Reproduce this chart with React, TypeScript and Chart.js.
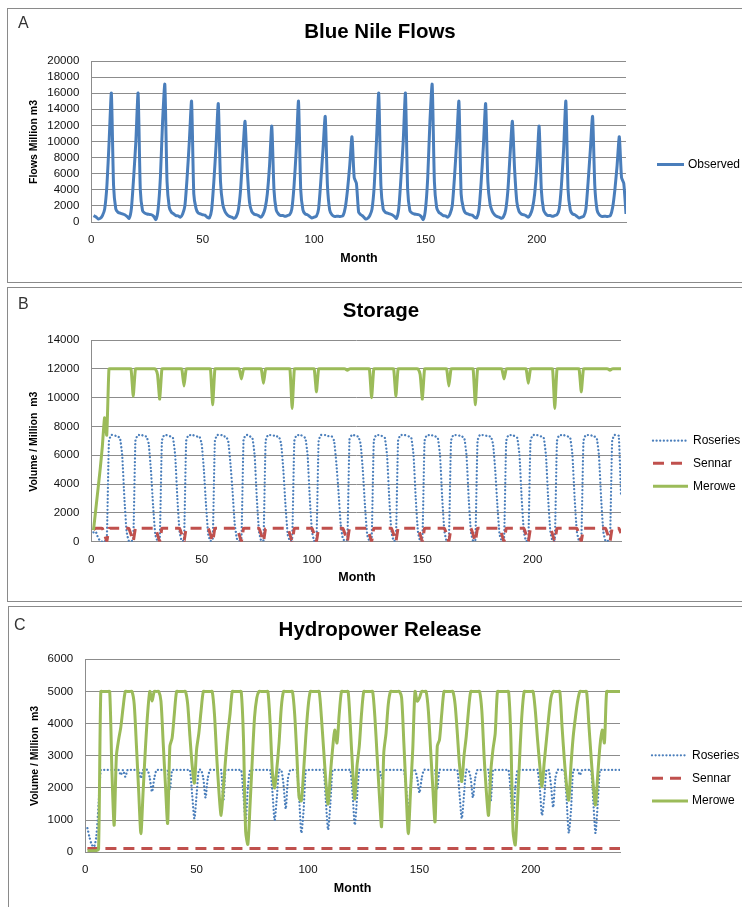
import React, { useEffect, useRef } from 'react';
import { Chart, registerables } from 'chart.js';

Chart.register(...registerables);

// ---------- categories / ticks ----------
const months: number[] = Array.from({ length: 240 }, (_, i) => i + 1);
const xTickValues = [0, 50, 100, 150, 200];

// ---------- Panel A: Blue Nile observed flows (million m3), one row per year ----------
const observedFlow: number[] = [
  [800, 650, 400, 450, 800, 1600, 4500, 10000, 16000, 4500, 1600, 1200],
  [1100, 1000, 900, 700, 450, 1700, 5500, 10000, 16000, 4000, 1400, 1100],
  [1000, 950, 900, 700, 300, 1600, 5500, 12500, 17100, 5000, 1800, 1200],
  [1000, 800, 750, 600, 1000, 2000, 5500, 10000, 15000, 3500, 1700, 1100],
  [1000, 900, 850, 600, 500, 1500, 5000, 9500, 14700, 5000, 2200, 1300],
  [900, 700, 600, 450, 650, 1500, 4000, 8500, 12500, 6500, 2500, 1300],
  [1000, 900, 800, 600, 900, 1700, 3500, 7000, 11900, 4000, 1500, 1000],
  [800, 800, 700, 800, 900, 1600, 4500, 9000, 15000, 4000, 1500, 1000],
  [900, 700, 500, 600, 700, 1600, 5000, 9000, 13100, 4500, 1500, 900],
  [700, 700, 700, 700, 800, 1800, 4000, 7000, 10600, 5500, 4800, 1200],
  [900, 700, 400, 450, 800, 1600, 4500, 10000, 16000, 4500, 1600, 1200],
  [1100, 1000, 900, 700, 450, 1700, 5500, 10000, 16000, 4000, 1400, 1100],
  [1000, 950, 900, 700, 300, 1600, 5500, 12500, 17100, 5000, 1800, 1200],
  [1000, 800, 750, 600, 1000, 2000, 5500, 10000, 15000, 3500, 1700, 1100],
  [1000, 900, 850, 600, 500, 1500, 5000, 9500, 14700, 5000, 2200, 1300],
  [900, 700, 600, 450, 650, 1500, 4000, 8500, 12500, 6500, 2500, 1300],
  [1000, 900, 800, 600, 900, 1700, 3500, 7000, 11900, 4000, 1500, 1000],
  [800, 800, 700, 800, 900, 1600, 4500, 9000, 15000, 4000, 1500, 1000],
  [900, 700, 500, 600, 700, 1600, 5000, 9000, 13100, 4500, 1500, 900],
  [700, 700, 700, 700, 800, 1800, 4000, 7000, 10600, 5500, 4800, 1000],
].flat();

// ---------- Panel B: storage ----------
const roseriesStorage: number[] = [
  [650, 700, 300, 50, 0, 30, 80, 7000, 7400, 7400, 7350, 7300],
  [7200, 6000, 3000, 700, 50, 40, 100, 7000, 7400, 7400, 7400, 7300],
  [7300, 6800, 5000, 2500, 500, 50, 100, 7000, 7400, 7400, 7350, 7300],
  [7200, 6000, 3000, 700, 50, 100, 7000, 7400, 7400, 7400, 7350, 7300],
  [7300, 6800, 5000, 2500, 500, 50, 100, 7000, 7400, 7400, 7400, 7300],
  [7300, 7000, 5500, 3500, 1200, 200, 50, 150, 7100, 7400, 7400, 7300],
  [7200, 6000, 3000, 700, 50, 100, 7000, 7400, 7400, 7400, 7350, 7300],
  [7300, 6800, 5000, 2500, 500, 50, 100, 7000, 7400, 7400, 7400, 7300],
  [7200, 6000, 3000, 700, 50, 100, 7000, 7400, 7400, 7400, 7350, 7300],
  [7300, 7000, 5500, 3500, 1200, 200, 50, 150, 7100, 7400, 7400, 7300],
  [7300, 6800, 5000, 2500, 500, 50, 100, 7000, 7400, 7400, 7400, 7300],
  [7200, 6000, 3000, 700, 50, 100, 7000, 7400, 7400, 7400, 7350, 7300],
  [7200, 6000, 3000, 700, 50, 100, 7000, 7400, 7400, 7400, 7350, 7300],
  [7200, 6000, 3000, 700, 50, 100, 7000, 7400, 7400, 7400, 7350, 7300],
  [7200, 6000, 3000, 700, 50, 100, 7000, 7400, 7400, 7400, 7350, 7300],
  [7300, 6800, 5000, 2500, 500, 50, 100, 7000, 7400, 7400, 7400, 7300],
  [7200, 6000, 3000, 700, 50, 100, 7000, 7400, 7400, 7400, 7350, 7300],
  [7200, 6000, 3000, 700, 50, 100, 7000, 7400, 7400, 7400, 7350, 7300],
  [7200, 6000, 3000, 700, 50, 100, 7000, 7400, 7400, 7400, 7350, 7300],
  [7200, 6000, 3000, 700, 50, 50, 100, 7000, 7400, 7400, 7350, 3200],
].flat();

const sennarStorage: number[] = [
  [850, 930, 930, 930, 930, 500, 0, 930, 930, 930, 930, 930],
  [930, 930, 930, 930, 930, 500, 20, 930, 930, 930, 930, 930],
  [930, 930, 930, 930, 930, 500, 20, 930, 930, 930, 930, 930],
  [930, 930, 930, 930, 500, 20, 930, 930, 930, 930, 930, 930],
  [930, 930, 930, 930, 930, 500, 20, 930, 930, 930, 930, 930],
  [930, 930, 930, 930, 930, 930, 500, 20, 930, 930, 930, 930],
  [930, 930, 930, 930, 500, 20, 930, 930, 930, 930, 930, 930],
  [930, 930, 930, 930, 930, 500, 20, 930, 930, 930, 930, 930],
  [930, 930, 930, 930, 500, 20, 930, 930, 930, 930, 930, 930],
  [930, 930, 930, 930, 930, 930, 500, 20, 930, 930, 930, 930],
  [930, 930, 930, 930, 930, 500, 20, 930, 930, 930, 930, 930],
  [930, 930, 930, 930, 500, 20, 930, 930, 930, 930, 930, 930],
  [930, 930, 930, 930, 500, 20, 930, 930, 930, 930, 930, 930],
  [930, 930, 930, 930, 500, 20, 930, 930, 930, 930, 930, 930],
  [930, 930, 930, 930, 500, 20, 930, 930, 930, 930, 930, 930],
  [930, 930, 930, 930, 930, 500, 20, 930, 930, 930, 930, 930],
  [930, 930, 930, 930, 500, 20, 930, 930, 930, 930, 930, 930],
  [930, 930, 930, 930, 500, 20, 930, 930, 930, 930, 930, 930],
  [930, 930, 930, 930, 500, 20, 930, 930, 930, 930, 930, 930],
  [930, 930, 930, 930, 930, 500, 20, 930, 930, 930, 930, 600],
].flat();

const meroweStorage: number[] = [
  [800, 2200, 3600, 5000, 6600, 8600, 7400, 12000, 12000, 12000, 12000, 12000],
  [12000, 12000, 12000, 12000, 12000, 12000, 10100, 12000, 12000, 12000, 12000, 12000],
  [12000, 12000, 12000, 12000, 12000, 11600, 9900, 12000, 12000, 12000, 12000, 12000],
  [12000, 12000, 12000, 12000, 12000, 10800, 12000, 12000, 12000, 12000, 12000, 12000],
  [12000, 12000, 12000, 12000, 12000, 12000, 9500, 12000, 12000, 12000, 12000, 12000],
  [12000, 12000, 12000, 12000, 12000, 12000, 12000, 11300, 12000, 12000, 12000, 12000],
  [12000, 12000, 12000, 12000, 12000, 11000, 12000, 12000, 12000, 12000, 12000, 12000],
  [12000, 12000, 12000, 12000, 12000, 12000, 9250, 12000, 12000, 12000, 12000, 12000],
  [12000, 12000, 12000, 12000, 12000, 10400, 12000, 12000, 12000, 12000, 12000, 12000],
  [12000, 12000, 12000, 12000, 12000, 12000, 12000, 11900, 12000, 12000, 12000, 12000],
  [12000, 12000, 12000, 12000, 12000, 12000, 10000, 12000, 12000, 12000, 12000, 12000],
  [12000, 12000, 12000, 12000, 12000, 10100, 12000, 12000, 12000, 12000, 12000, 12000],
  [12000, 12000, 12000, 12000, 11600, 9900, 12000, 12000, 12000, 12000, 12000, 12000],
  [12000, 12000, 12000, 12000, 12000, 10800, 12000, 12000, 12000, 12000, 12000, 12000],
  [12000, 12000, 12000, 12000, 12000, 9500, 12000, 12000, 12000, 12000, 12000, 12000],
  [12000, 12000, 12000, 12000, 12000, 12000, 11300, 12000, 12000, 12000, 12000, 12000],
  [12000, 12000, 12000, 12000, 12000, 11000, 12000, 12000, 12000, 12000, 12000, 12000],
  [12000, 12000, 12000, 12000, 12000, 9250, 12000, 12000, 12000, 12000, 12000, 12000],
  [12000, 12000, 12000, 12000, 12000, 10400, 12000, 12000, 12000, 12000, 12000, 12000],
  [12000, 12000, 12000, 12000, 12000, 12000, 11900, 12000, 12000, 12000, 12000, 12000],
].flat();

// ---------- Panel C: hydropower release ----------
const roseriesRelease: number[] = [
  [750, 450, 230, 170, 500, 1500, 2560, 2560, 2560, 2560, 2560, 2560],
  [2560, 2560, 2560, 2400, 2560, 2350, 2560, 2560, 2560, 2560, 2560, 2560],
  [2300, 2560, 2560, 2560, 2300, 1880, 2300, 2560, 2560, 2560, 2560, 2560],
  [2560, 1950, 2560, 2560, 2560, 2560, 2560, 2560, 2560, 2560, 2560, 1800],
  [1050, 1800, 2560, 2560, 2300, 1700, 2300, 2560, 2560, 2560, 2560, 2560],
  [2560, 1600, 2560, 2560, 2560, 2560, 2560, 2560, 2560, 2560, 1800, 950],
  [2000, 2560, 2560, 2560, 2560, 2560, 2560, 2560, 2560, 2560, 2560, 1900],
  [1000, 1700, 2560, 2560, 2100, 1350, 2300, 2560, 2560, 2560, 2560, 1700],
  [600, 1300, 2560, 2560, 2560, 2560, 2560, 2560, 2560, 2560, 2560, 1600],
  [700, 1500, 2560, 2560, 2560, 2560, 2560, 2560, 2560, 2560, 2560, 1800],
  [850, 1700, 2560, 2560, 2560, 2560, 2560, 2560, 2560, 2560, 2560, 2560],
  [2300, 2560, 2560, 2560, 2560, 2560, 2560, 2560, 2560, 2560, 2560, 2000],
  [1200, 2000, 2560, 2560, 2300, 1850, 2300, 2560, 2560, 2560, 2560, 2560],
  [2560, 1950, 2560, 2560, 2560, 2560, 2560, 2560, 2560, 2560, 2560, 1800],
  [1050, 1800, 2560, 2560, 2300, 1700, 2300, 2560, 2560, 2560, 2560, 2560],
  [2560, 1600, 2560, 2560, 2560, 2560, 2560, 2560, 2560, 2560, 1800, 950],
  [2000, 2560, 2560, 2560, 2560, 2560, 2560, 2560, 2560, 2560, 2560, 2000],
  [1150, 1700, 2560, 2560, 2100, 1400, 2300, 2560, 2560, 2560, 2560, 1700],
  [600, 1300, 2560, 2560, 2560, 2400, 2560, 2560, 2560, 2560, 2560, 1600],
  [600, 1500, 2560, 2560, 2560, 2560, 2560, 2560, 2560, 2560, 2560, 2560],
].flat();

const sennarRelease: number[] = [
  [120, 120, 120, 120, 120, 120, 120, 120, 120, 120, 120, 120],
  [120, 120, 120, 120, 120, 120, 120, 120, 120, 120, 120, 120],
  [120, 120, 120, 120, 120, 120, 120, 120, 120, 120, 120, 120],
  [120, 120, 120, 120, 120, 120, 120, 120, 120, 120, 120, 120],
  [120, 120, 120, 120, 120, 120, 120, 120, 120, 120, 120, 120],
  [120, 120, 120, 120, 120, 120, 120, 120, 120, 120, 120, 120],
  [120, 120, 120, 120, 120, 120, 120, 120, 120, 120, 120, 120],
  [120, 120, 120, 120, 120, 120, 120, 120, 120, 120, 120, 120],
  [120, 120, 120, 120, 120, 120, 120, 120, 120, 120, 120, 120],
  [120, 120, 120, 120, 120, 120, 120, 120, 120, 120, 120, 120],
  [120, 120, 120, 120, 120, 120, 120, 120, 120, 120, 120, 120],
  [120, 120, 120, 120, 120, 120, 120, 120, 120, 120, 120, 120],
  [120, 120, 120, 120, 120, 120, 120, 120, 120, 120, 120, 120],
  [120, 120, 120, 120, 120, 120, 120, 120, 120, 120, 120, 120],
  [120, 120, 120, 120, 120, 120, 120, 120, 120, 120, 120, 120],
  [120, 120, 120, 120, 120, 120, 120, 120, 120, 120, 120, 120],
  [120, 120, 120, 120, 120, 120, 120, 120, 120, 120, 120, 120],
  [120, 120, 120, 120, 120, 120, 120, 120, 120, 120, 120, 120],
  [120, 120, 120, 120, 120, 120, 120, 120, 120, 120, 120, 120],
  [120, 120, 120, 120, 120, 120, 120, 120, 120, 120, 120, 120],
].flat();

const meroweRelease: number[] = [
  [50, 50, 50, 50, 50, 100, 5000, 5000, 5000, 5000, 5000, 2500],
  [840, 3000, 3500, 3900, 4500, 5000, 5000, 5000, 5000, 4600, 3300, 1900],
  [580, 1900, 3200, 4300, 5000, 4700, 5000, 5000, 5000, 4700, 3400, 2100],
  [900, 3300, 3550, 4300, 5000, 5000, 5000, 5000, 5000, 4600, 3600, 2700],
  [2150, 3200, 3700, 4400, 5000, 5000, 5000, 5000, 5000, 4300, 3000, 1900],
  [1150, 2000, 2900, 3700, 4300, 5000, 5000, 5000, 5000, 5000, 3600, 650],
  [250, 1500, 2900, 4200, 4800, 5000, 5000, 5000, 5000, 5000, 4000, 2500],
  [2000, 2600, 3400, 4500, 5000, 5000, 5000, 5000, 5000, 4300, 3000, 1700],
  [1600, 2500, 3600, 4500, 5000, 5000, 5000, 5000, 5000, 4200, 3200, 2200],
  [1500, 2400, 3200, 3800, 3400, 4300, 5000, 5000, 5000, 5000, 3900, 2600],
  [1650, 2700, 3300, 4300, 5000, 5000, 5000, 5000, 5000, 4200, 3000, 1800],
  [800, 3100, 3700, 4600, 5000, 5000, 5000, 5000, 5000, 4800, 3400, 1900],
  [580, 1900, 3200, 5000, 4700, 4800, 5000, 5000, 5000, 4400, 3200, 2000],
  [950, 3300, 3500, 4300, 5000, 5000, 5000, 5000, 5000, 4600, 3700, 2700],
  [2200, 3000, 3600, 4400, 5000, 5000, 5000, 5000, 5000, 4400, 3000, 1900],
  [1150, 2500, 3200, 3700, 5000, 5000, 5000, 5000, 5000, 5000, 3600, 650],
  [230, 1500, 3000, 4300, 5000, 5000, 5000, 5000, 5000, 4400, 3500, 2700],
  [2040, 2800, 3500, 4200, 4800, 5000, 5000, 5000, 5000, 3900, 2900, 2100],
  [1625, 2700, 3600, 4200, 4700, 5000, 5000, 5000, 5000, 4000, 3000, 2100],
  [1470, 2400, 3300, 3800, 3400, 5000, 5000, 5000, 5000, 5000, 5000, 5000],
].flat();

// ---------- styles ----------
const FONT = '"Liberation Sans", Arial, sans-serif';
const GRID = '#8c8c8c';
const BLUE = '#4a7ebb';
const RED = '#c0504d';
const GREEN = '#9bbb59';

type SeriesStyle = {
  label: string;
  values: number[];
  color: string;
  width: number;
  dash: number[];
  cap: CanvasLineCap;
  tension: number;
  order: number;
};

type PanelCfg = {
  top: number;
  height: number;
  area: { left: number; top: number; right: number; bottom: number };
  yMax: number;
  yStep: number;
  title: string;
  titleX: number;
  titleY: number;
  letter: string;
  letterX: number;
  letterY: number;
  monthX: number;
  monthY: number;
  yTitle: string;
  yTitleX: number;
  yTitleY: number;
  legX0: number;
  legX1: number;
  legTX: number;
  legYs: number[];
  series: SeriesStyle[];
};

const roseriesStyle = { color: BLUE, width: 2.3, dash: [0.01, 3.6], cap: 'round' as CanvasLineCap };
const sennarStyle = { color: RED, width: 3, dash: [11, 7], cap: 'butt' as CanvasLineCap };
const meroweStyle = { color: GREEN, width: 3, dash: [] as number[], cap: 'butt' as CanvasLineCap };

const panels: PanelCfg[] = [
  {
    top: 0, height: 285,
    area: { left: 91.3, top: 61, right: 626, bottom: 222 },
    yMax: 20000, yStep: 2000,
    title: 'Blue Nile Flows', titleX: 380, titleY: 32,
    letter: 'A', letterX: 18, letterY: 24,
    monthX: 359, monthY: 259,
    yTitle: 'Flows Million m3', yTitleX: 34, yTitleY: 142,
    legX0: 657, legX1: 684, legTX: 688, legYs: [164.5],
    series: [
      { label: 'Observed', values: observedFlow, color: BLUE, width: 3, dash: [], cap: 'butt', tension: 0.2, order: 0 },
    ],
  },
  {
    top: 285, height: 318,
    area: { left: 91.3, top: 55, right: 621, bottom: 256.7 },
    yMax: 14000, yStep: 2000,
    title: 'Storage', titleX: 381, titleY: 26.7,
    letter: 'B', letterX: 18, letterY: 20,
    monthX: 357, monthY: 292.7,
    yTitle: 'Volume / Million  m3', yTitleX: 34, yTitleY: 156.7,
    legX0: 653, legX1: 688, legTX: 693, legYs: [155.7, 178.3, 201.3],
    series: [
      { label: 'Roseries', values: roseriesStorage, ...roseriesStyle, tension: 0.15, order: 2 },
      { label: 'Sennar', values: sennarStorage, ...sennarStyle, tension: 0.15, order: 1 },
      { label: 'Merowe', values: meroweStorage, ...meroweStyle, tension: 0.15, order: 0 },
    ],
  },
  {
    top: 603, height: 304,
    area: { left: 85.2, top: 56.3, right: 620, bottom: 249.3 },
    yMax: 6000, yStep: 1000,
    title: 'Hydropower Release', titleX: 380, titleY: 27,
    letter: 'C', letterX: 14, letterY: 23,
    monthX: 352.6, monthY: 285.7,
    yTitle: 'Volume / Million  m3', yTitleX: 35, yTitleY: 153,
    legX0: 652, legX1: 688, legTX: 692, legYs: [152.3, 175.3, 198],
    series: [
      { label: 'Roseries', values: roseriesRelease, ...roseriesStyle, tension: 0.25, order: 2 },
      { label: 'Sennar', values: sennarRelease, ...sennarStyle, tension: 0.25, order: 1 },
      { label: 'Merowe', values: meroweRelease, ...meroweStyle, tension: 0.25, order: 0 },
    ],
  },
];

const Y_AXIS_W = 50;
const X_AXIS_H = 30;

function makeDecor(cfg: PanelCfg) {
  return {
    id: 'decor',
    afterDraw(chart: Chart) {
      const ctx = chart.ctx;
      ctx.save();
      ctx.textBaseline = 'middle';
      // panel letter
      ctx.fillStyle = '#333';
      ctx.textAlign = 'left';
      ctx.font = `16px ${FONT}`;
      ctx.fillText(cfg.letter, cfg.letterX, cfg.letterY);
      // title
      ctx.fillStyle = '#000';
      ctx.textAlign = 'center';
      ctx.font = `bold 20.5px ${FONT}`;
      ctx.fillText(cfg.title, cfg.titleX, cfg.titleY);
      // x title
      ctx.font = `bold 12.5px ${FONT}`;
      ctx.fillText('Month', cfg.monthX, cfg.monthY);
      // y title
      ctx.save();
      ctx.translate(cfg.yTitleX, cfg.yTitleY);
      ctx.rotate(-Math.PI / 2);
      ctx.font = `bold 10.5px ${FONT}`;
      ctx.fillText(cfg.yTitle, 0, 0);
      ctx.restore();
      // legend
      cfg.series.forEach((s, i) => {
        const y = cfg.legYs[i];
        ctx.save();
        ctx.strokeStyle = s.color;
        ctx.lineWidth = s.width;
        ctx.lineCap = s.cap;
        ctx.setLineDash(s.dash);
        ctx.beginPath();
        ctx.moveTo(cfg.legX0, y);
        ctx.lineTo(cfg.legX1, y);
        ctx.stroke();
        ctx.restore();
        ctx.fillStyle = '#000';
        ctx.textAlign = 'left';
        ctx.font = `12px ${FONT}`;
        ctx.fillText(s.label, cfg.legTX, y);
      });
      ctx.restore();
    },
  };
}

function Panel({ cfg }: { cfg: PanelCfg }) {
  const ref = useRef<HTMLCanvasElement>(null);
  useEffect(() => {
    const canvas = ref.current;
    if (!canvas) return;
    const a = cfg.area;
    const chart = new Chart(canvas, {
      type: 'line',
      data: {
        datasets: cfg.series.map((s) => ({
          label: s.label,
          data: months.map((m, i) => ({ x: m, y: s.values[i] })),
          borderColor: s.color,
          backgroundColor: s.color,
          borderWidth: s.width,
          borderDash: s.dash,
          borderCapStyle: s.cap,
          borderJoinStyle: 'round',
          pointRadius: 0,
          pointHoverRadius: 0,
          tension: s.tension,
          fill: false,
          order: s.order,
        })),
      },
      options: {
        responsive: false,
        animation: false,
        devicePixelRatio: 1,
        events: [],
        layout: {
          padding: {
            left: a.left - Y_AXIS_W,
            top: a.top,
            right: 742 - a.right,
            bottom: cfg.height - a.bottom - X_AXIS_H,
          },
        },
        plugins: {
          legend: { display: false },
          title: { display: false },
          tooltip: { enabled: false },
        },
        scales: {
          x: {
            type: 'linear',
            min: 0,
            max: 240,
            afterBuildTicks: (s: any) => {
              s.ticks = xTickValues.map((v) => ({ value: v }));
            },
            afterFit: (s: any) => {
              s.height = X_AXIS_H;
            },
            ticks: {
              padding: 11,
              maxRotation: 0,
              autoSkip: false,
              color: '#111',
              font: { family: FONT, size: 11.5 },
              callback: (v: any) => String(v),
            },
            grid: { display: false, drawTicks: false },
            border: { display: true, color: GRID, width: 1 },
          },
          y: {
            type: 'linear',
            min: 0,
            max: cfg.yMax,
            afterFit: (s: any) => {
              s.width = Y_AXIS_W;
            },
            ticks: {
              stepSize: cfg.yStep,
              autoSkip: false,
              padding: 12,
              color: '#111',
              font: { family: FONT, size: 11.5 },
              callback: (v: any) => String(v),
            },
            grid: { color: GRID, lineWidth: 1, drawTicks: false },
            border: { display: true, color: GRID, width: 1 },
          },
        },
      },
      plugins: [makeDecor(cfg)],
    } as any);
    return () => chart.destroy();
  }, [cfg]);
  return (
    <canvas
      ref={ref}
      width={742}
      height={cfg.height}
      style={{ position: 'absolute', left: 0, top: cfg.top, width: 742, height: cfg.height }}
    />
  );
}

const frameStyle = (top: number, height: number, left: number): React.CSSProperties => ({
  position: 'absolute',
  left,
  top,
  width: 800,
  height,
  border: '1px solid #8a8a8a',
  boxSizing: 'border-box',
  pointerEvents: 'none',
});

export default function App() {
  return (
    <div
      style={{
        position: 'absolute',
        left: 0,
        top: 0,
        width: 742,
        height: 907,
        overflow: 'hidden',
        background: '#fff',
      }}
    >
      <div style={frameStyle(8, 275, 7)} />
      <div style={frameStyle(287, 315, 7)} />
      <div style={frameStyle(606, 320, 8)} />
      {panels.map((p, i) => (
        <Panel key={i} cfg={p} />
      ))}
    </div>
  );
}
